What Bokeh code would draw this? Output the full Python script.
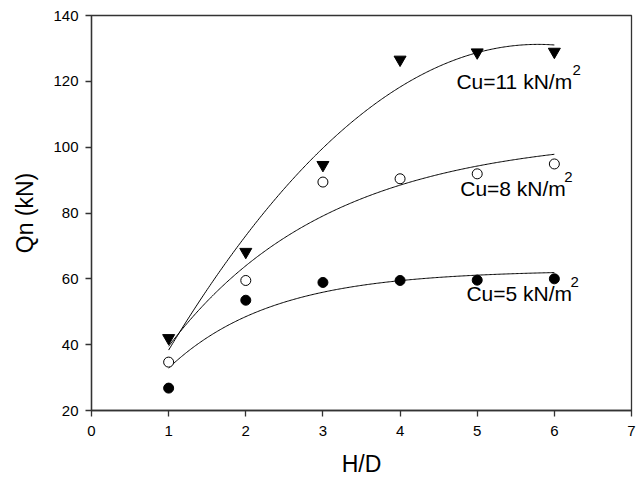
import numpy as np
from bokeh.plotting import figure
from bokeh.models import FixedTicker, Label, Range1d
from bokeh.embed import file_html
from bokeh.resources import INLINE

# ---- data ----
hd = [1, 2, 3, 4, 5, 6]
qn_cu11 = [42.0, 68.2, 94.6, 126.6, 128.8, 129.0]
qn_cu8 = [34.7, 59.5, 89.4, 90.4, 91.9, 94.9]
qn_cu5 = [26.8, 53.5, 58.9, 59.5, 59.6, 60.0]

x_ticks = [0, 1, 2, 3, 4, 5, 6, 7]
y_ticks = [20, 40, 60, 80, 100, 120, 140]

label_texts = ["Cu=11 kN/m", "Cu=8 kN/m", "Cu=5 kN/m"]
label_sup = "2"

# ---- fitted curves (regressions computed from the data) ----
xs = np.array(hd, dtype=float)
x_fit = np.linspace(1, 6, 300)


def quad_fit(y):
    c = np.polyfit(xs, np.array(y, dtype=float), 2)
    return np.polyval(c, x_fit)


def exp_rise_fit(y):
    y = np.array(y, dtype=float)
    best = None
    for b in np.arange(0.01, 3.0, 0.0005):
        f = 1 - np.exp(-b * xs)
        a = (f @ y) / (f @ f)
        sse = np.sum((y - a * f) ** 2)
        if best is None or sse < best[0]:
            best = (sse, a, b)
    _, a, b = best
    return a * (1 - np.exp(-b * x_fit))


fit11 = quad_fit(qn_cu11)
fit8 = exp_rise_fit(qn_cu8)
fit5 = exp_rise_fit(qn_cu5)

FONT = "Liberation Sans"

p = figure(width=640, height=479, output_backend="svg", toolbar_location=None,
           x_range=Range1d(0, 7), y_range=Range1d(20, 140),
           min_border_left=91, min_border_right=9, min_border_top=15,
           min_border_bottom=69)
p.grid.visible = False
p.outline_line_color = "#333333"
p.outline_line_width = 1.3
p.background_fill_color = "white"
p.border_fill_color = "white"

for ax in (p.xaxis[0], p.yaxis[0]):
    ax.axis_line_color = "#333333"
    ax.axis_line_width = 1.3
    ax.major_tick_line_color = "#333333"
    ax.major_tick_line_width = 1.3
    ax.major_tick_out = 6
    ax.major_tick_in = 0
    ax.minor_tick_line_color = None
    ax.major_label_text_font = FONT
    ax.major_label_text_font_size = "15px"
    ax.major_label_text_color = "black"
    ax.axis_label_text_font = FONT
    ax.axis_label_text_font_size = "23px"
    ax.axis_label_text_font_style = "normal"
    ax.axis_label_text_color = "black"

p.xaxis.ticker = FixedTicker(ticks=x_ticks)
p.yaxis.ticker = FixedTicker(ticks=y_ticks)
p.xaxis.axis_label = "H/D"
p.yaxis.axis_label = "Qn (kN)"
p.xaxis.major_label_standoff = 9
p.yaxis.major_label_standoff = 7
p.xaxis.axis_label_standoff = 12
p.yaxis.axis_label_standoff = 12

# curves
p.line(x_fit, fit11, line_color="black", line_width=1)
p.line(x_fit, fit8, line_color="black", line_width=1)
p.line(x_fit, fit5, line_color="black", line_width=1)

# markers
p.scatter(hd, qn_cu11, marker="inverted_triangle", size=12,
          fill_color="black", line_color="black")
p.scatter(hd, qn_cu8, marker="circle", size=10,
          fill_color="white", line_color="black", line_width=1)
p.scatter(hd, qn_cu5, marker="circle", size=10,
          fill_color="black", line_color="black")

# annotations (data-unit positions of label baselines)
label_pos = [(4.73, 120.0), (4.78, 87.5), (4.86, 55.5)]
sup_dx = [116, 104, 104]
sup_dy = 3.4
for (lx, ly), txt, dx in zip(label_pos, label_texts, sup_dx):
    p.add_layout(Label(x=lx, y=ly, text=txt, text_font=FONT,
                       text_font_size="21px", text_color="black",
                       text_baseline="alphabetic", text_align="left"))
    p.add_layout(Label(x=lx, y=ly + sup_dy, x_offset=dx, text=label_sup,
                       text_font=FONT, text_font_size="15px",
                       text_color="black", text_baseline="alphabetic",
                       text_align="left"))

open("out.html", "w").write(file_html(p, INLINE))
